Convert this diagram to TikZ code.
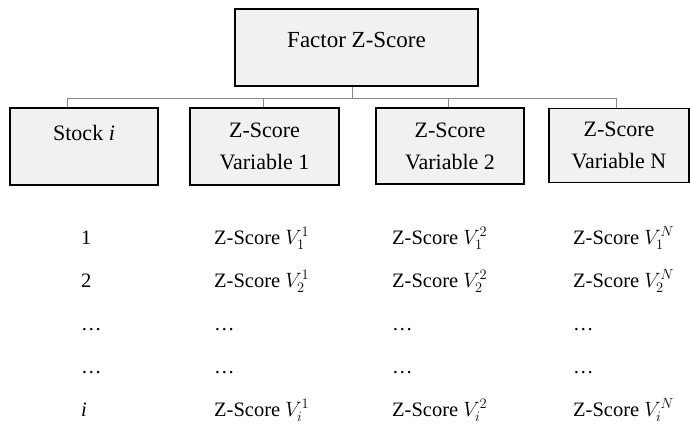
\documentclass[tikz,border=0pt]{standalone}
\usepackage{fontspec}
\setmainfont{Liberation Serif}
\usepackage{tikz}
\usetikzlibrary{positioning}
\usepackage{xcolor}
\definecolor{boxgray}{RGB}{241,241,241}
\definecolor{busgray}{RGB}{135,135,135}

\begin{document}
\begin{tikzpicture}[x=1pt,y=-1pt,
    box/.style={draw,line width=1.4pt,fill=boxgray,inner sep=0pt,align=center,
      font=\fontsize{22}{32}\selectfont},
    bus/.style={draw=busgray,line width=0.9pt},
    cell/.style={anchor=base west,inner sep=0pt,font=\fontsize{20.5}{24}\selectfont}]
        \useasboundingbox (0,0) rectangle (690,440);
        % boxes
        \node[box,minimum width=243pt,minimum height=77pt,text height=16pt,text depth=17pt,
          font=\fontsize{23}{28}\selectfont] (factor) at (356.5,47.5) {Factor Z-Score};
        \node[box,minimum width=148pt,minimum height=77pt,text height=16pt,text depth=29pt] (stock) at (84,146.5) {Stock \textit{i}};
        \node[box,minimum width=149pt,minimum height=77pt] (varA) at (264.5,146.5) {Z-Score\\Variable 1};
        \node[box,minimum width=148pt,minimum height=76pt] (varB) at (450,146) {Z-Score\\Variable 2};
        \node[box,minimum width=140pt,minimum height=74pt] (varN) at (619,145.5) {Z-Score\\Variable N};
        % connectors
        \coordinate (busmid) at ([xshift=-4.5pt]factor.south |- 0,98);
        \draw[bus] ([xshift=-4.5pt]factor.south) -- (busmid);
        \draw[bus] (busmid -| 67,0) -- (busmid -| 616,0);
        \foreach \n/\x in {stock/67, varA/263, varB/448, varN/616}
            \draw[bus] (busmid -| \x,0) -- (\x,0 |- \n.north);
        % table
        \foreach \r/\y/\s/\lab in {1/244/1/1, 2/287/2/2, 5/416/i/\textit{i}} {
            \node[cell] (cell-\r-0) at (81,\y) {\lab};
            \node[cell] (cell-\r-1) at (214,\y) {Z-Score $V_{\s}^{1}$};
            \node[cell] (cell-\r-2) at (392,\y) {Z-Score $V_{\s}^{2}$};
            \node[cell] (cell-\r-3) at (573,\y) {Z-Score $V_{\s}^{N}$};
        }
        \foreach \r/\y in {3/330, 4/373}
            \foreach \c/\x in {0/81, 1/214, 2/392, 3/573}
                \node[cell] (cell-\r-\c) at (\x,\y) {\ldots};
    \end{tikzpicture}
\end{document}
